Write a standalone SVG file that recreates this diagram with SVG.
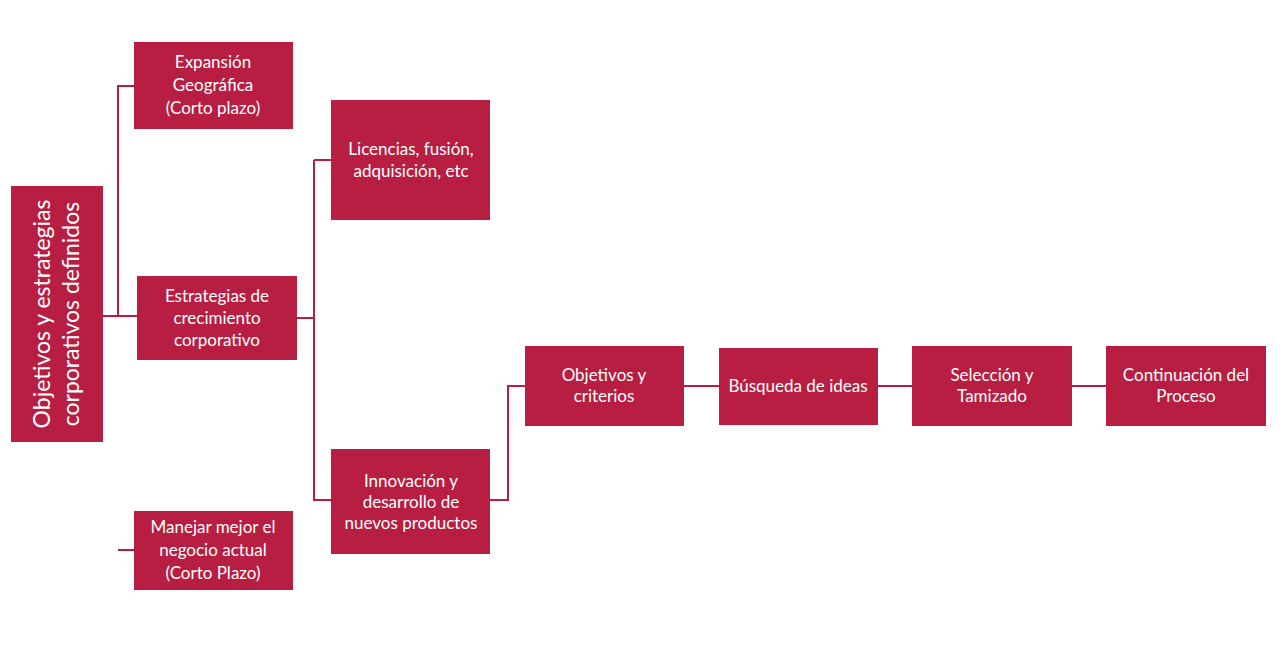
<svg xmlns="http://www.w3.org/2000/svg" width="1280" height="645" viewBox="0 0 1280 645">
<style>
.b{fill:#B71E42}
.t{fill:#fff;font-family:Lato,"Open Sans",sans-serif;font-size:17px;text-anchor:middle}
.c{stroke:#B71E42;stroke-width:2;fill:none}
</style>
<rect width="1280" height="645" fill="#fff"/>
<g id="connectors">
<path class="c" d="M103,316H118V86H134M118,316H137M118,550H134M297,318H314M314,160H331M314,160V500H331M490,500H508V386H525M684,386H719M878,386H912M1072,386H1106"/>
</g>
<g id="root"><rect class="b" x="11" y="186" width="92" height="256"/>
<text class="t" style="font-size:23px" transform="translate(57,314) rotate(-90)"><tspan x="0" y="-7">Objetivos y estrategias</tspan><tspan x="0" y="22">corporativos definidos</tspan></text></g>
<g id="expansion"><rect class="b" x="134" y="42" width="159" height="87"/>
<text class="t"><tspan x="213" y="68">Expansión</tspan><tspan x="213" y="91">Geográfica</tspan><tspan x="213" y="114">(Corto plazo)</tspan></text></g>
<g id="estrategias"><rect class="b" x="137" y="276" width="160" height="84"/>
<text class="t"><tspan x="217" y="302">Estrategias de</tspan><tspan x="217" y="324">crecimiento</tspan><tspan x="217" y="346">corporativo</tspan></text></g>
<g id="manejar"><rect class="b" x="134" y="511" width="159" height="79"/>
<text class="t"><tspan x="213" y="533">Manejar mejor el</tspan><tspan x="213" y="556">negocio actual</tspan><tspan x="213" y="579">(Corto Plazo)</tspan></text></g>
<g id="licencias"><rect class="b" x="331" y="100" width="159" height="120"/>
<text class="t"><tspan x="411" y="155">Licencias, fusión,</tspan><tspan x="411" y="177">adquisición, etc</tspan></text></g>
<g id="innovacion"><rect class="b" x="331" y="449" width="159" height="105"/>
<text class="t"><tspan x="411" y="487">Innovación y</tspan><tspan x="411" y="508">desarrollo de</tspan><tspan x="411" y="529">nuevos productos</tspan></text></g>
<g id="objetivos"><rect class="b" x="525" y="346" width="159" height="80"/>
<text class="t"><tspan x="604" y="381">Objetivos y</tspan><tspan x="604" y="402">criterios</tspan></text></g>
<g id="busqueda"><rect class="b" x="719" y="348" width="159" height="77"/>
<text class="t"><tspan x="798" y="392">Búsqueda de ideas</tspan></text></g>
<g id="seleccion"><rect class="b" x="912" y="346" width="160" height="80"/>
<text class="t"><tspan x="992" y="381">Selección y</tspan><tspan x="992" y="402">Tamizado</tspan></text></g>
<g id="continuacion"><rect class="b" x="1106" y="346" width="160" height="80"/>
<text class="t"><tspan x="1186" y="381">Continuación del</tspan><tspan x="1186" y="402">Proceso</tspan></text></g>
</svg>
